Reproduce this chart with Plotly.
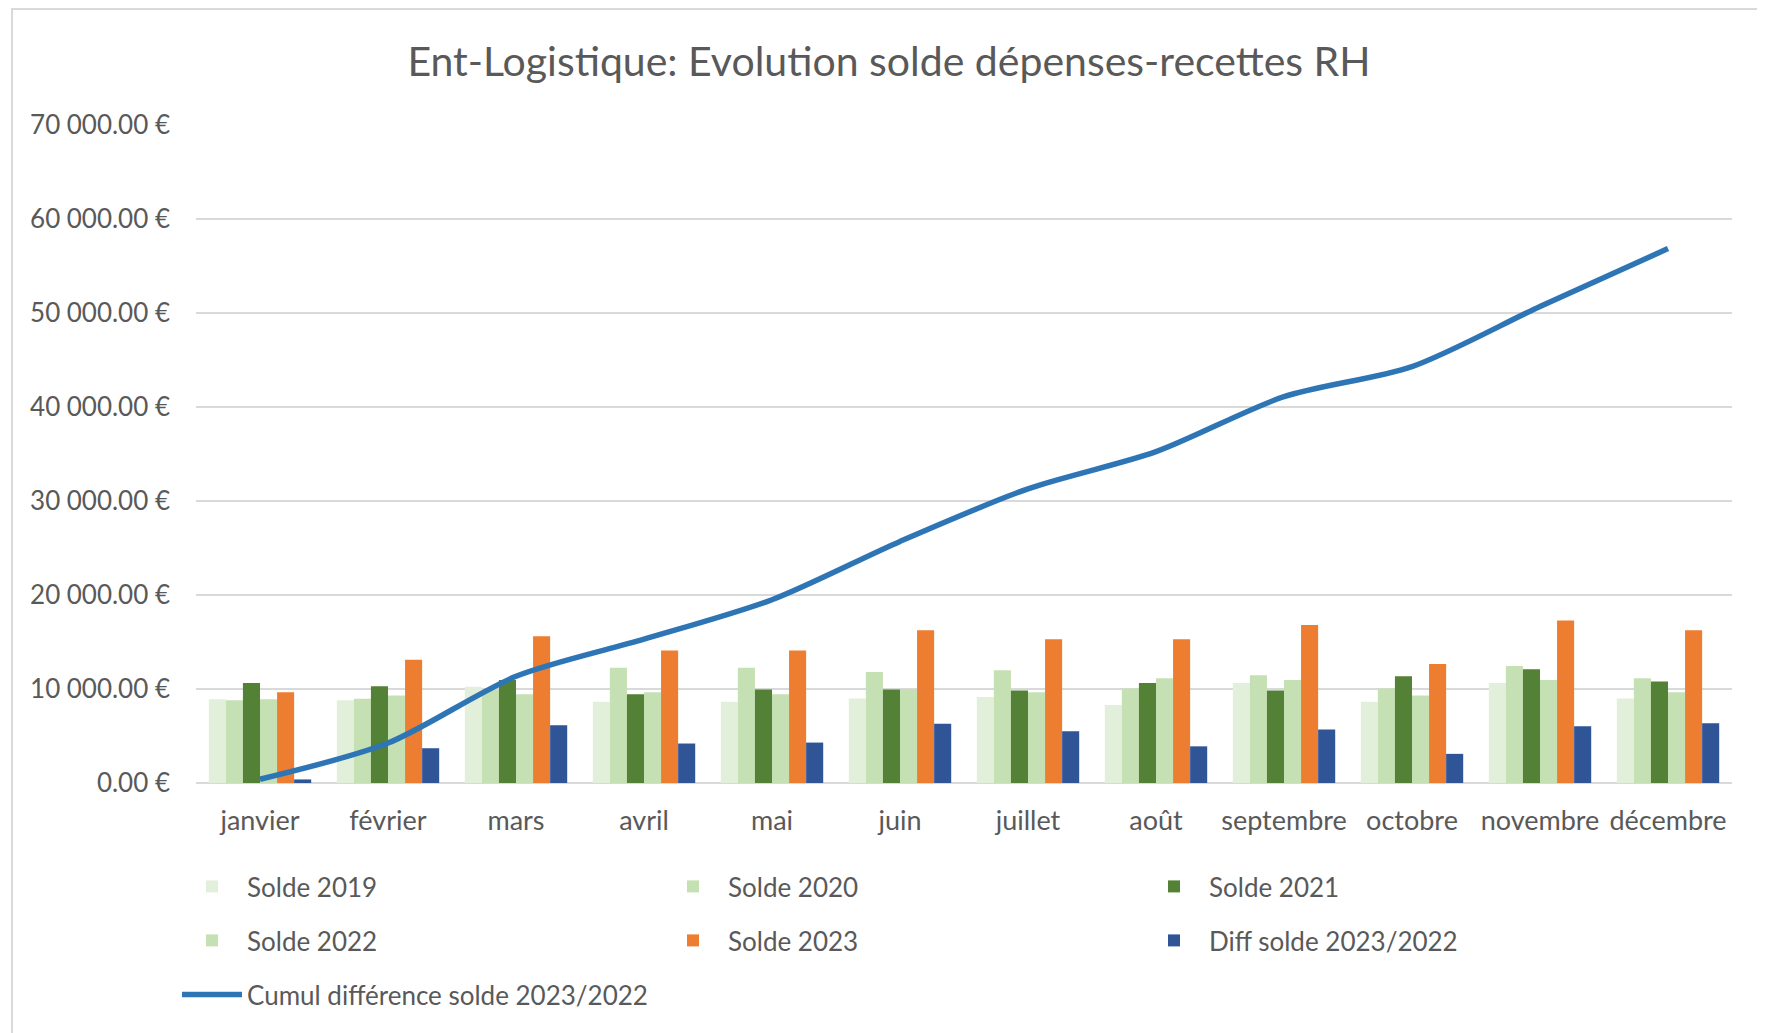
import plotly.graph_objects as go

mois = ["janvier", "février", "mars", "avril", "mai", "juin", "juillet",
        "août", "septembre", "octobre", "novembre", "décembre"]

solde_2019 = [8900, 8800, 10250, 8650, 8650, 9000, 9150, 8300, 10650, 8650, 10650, 9000]
solde_2020 = [8800, 8950, 9900, 12250, 12250, 11800, 12000, 10050, 11450, 10050, 12450, 11150]
solde_2021 = [10650, 10300, 10950, 9450, 9950, 9950, 9850, 10650, 9850, 11350, 12100, 10800]
solde_2022 = [8900, 9300, 9450, 9650, 9450, 10000, 9650, 11150, 10950, 9300, 10950, 9650]
solde_2023 = [9650, 13100, 15600, 14100, 14100, 16250, 15300, 15300, 16800, 12650, 17300, 16250]
diff_2023_2022 = [380, 3700, 6150, 4200, 4300, 6300, 5500, 3900, 5700, 3100, 6050, 6350]
cumul_diff = [400, 4250, 11350, 15300, 19500, 25700, 31300, 35250, 41100, 44300, 50700, 56850]

y_ticks = [0, 10000, 20000, 30000, 40000, 50000, 60000, 70000]
y_tick_labels = [f"{v:,.2f}".replace(",", "\u202f") + "\u00a0€" for v in y_ticks]

FONT = "Lato"
GREY = "#595959"

# page offset of the figure div (browser body margin)
OFF = 8
W, H = 1765 - OFF, 1033 - OFF
# plot area in page pixels: x 196..1732, y 125..783
L = 196 - OFF
T = 125 - OFF
R = W - (1732 - OFF)
B = H - (783 - OFF)
PW, PH = W - L - R, H - T - B


def px_x(page_x):
    return (page_x - OFF - L) / PW


def px_y(page_y):
    return (H - B - (page_y - OFF)) / PH


bars = [
    ("Solde 2019", solde_2019, "#E2EFDA", "legend"),
    ("Solde 2020", solde_2020, "#C5E0B3", "legend"),
    ("Solde 2021", solde_2021, "#538135", "legend"),
    ("Solde 2022", solde_2022, "#C5E0B3", "legend2"),
    ("Solde 2023", solde_2023, "#ED7D31", "legend2"),
    ("Diff solde 2023/2022", diff_2023_2022, "#2F5597", "legend2"),
]

fig = go.Figure()
for name, vals, col, lg in bars:
    fig.add_trace(go.Bar(x=mois, y=vals, name=name, marker_color=col,
                         marker_line_width=0, legend=lg))

fig.add_trace(go.Scatter(x=mois, y=cumul_diff, name="Cumul différence solde 2023/2022",
                         mode="lines",
                         line=dict(color="#2E75B6", width=5.5, shape="spline", smoothing=0.8),
                         legend="legend3"))

leg_common = dict(orientation="h", xanchor="left", yanchor="middle",
                  font=dict(family=FONT, size=26, color=GREY),
                  bgcolor="rgba(0,0,0,0)", itemwidth=60,
                  entrywidth=406, entrywidthmode="pixels", traceorder="normal")

LEG_X = px_x(169 + OFF)

fig.update_layout(
    width=W, height=H,
    margin=dict(l=L, r=R, t=T, b=B, pad=0),
    paper_bgcolor="white", plot_bgcolor="white",
    barmode="group", bargap=0.2, bargroupgap=0,
    title=dict(text="Ent-Logistique: Evolution solde dépenses-recettes RH",
               x=(889 - OFF) / W, xanchor="center", xref="container",
               y=1 - (62 - OFF) / H, yanchor="middle",
               font=dict(family=FONT, size=41, color=GREY)),
    font=dict(family=FONT, size=25, color=GREY),
    xaxis=dict(type="category", showgrid=False, showline=False, zeroline=False,
               ticks="", tickfont=dict(family=FONT, size=27, color=GREY),
               ticklabelstandoff=19),
    yaxis=dict(range=[0, 70000], tickvals=y_ticks, ticktext=y_tick_labels,
               showgrid=True, gridcolor="#D9D9D9", gridwidth=1.5,
               zeroline=True, zerolinecolor="#D9D9D9", zerolinewidth=1.5,
               showline=False, ticks="", ticklabelstandoff=25,
               tickfont=dict(family=FONT, size=26, color=GREY)),
    legend=dict(x=LEG_X, y=px_y(885 + 1.5), **leg_common),
    legend2=dict(x=LEG_X, y=px_y(939 + 1.5), **leg_common),
    legend3=dict(x=LEG_X, y=px_y(993 + 1.5), **leg_common),
    showlegend=True,
    shapes=[dict(type="rect", xref="paper", yref="paper",
                 x0=px_x(12), x1=px_x(1764), y0=px_y(1045), y1=px_y(OFF + 1),
                 line=dict(color="#D9D9D9", width=2), fillcolor="rgba(0,0,0,0)",
                 layer="below")],
)

fig.write_html("out.html")
